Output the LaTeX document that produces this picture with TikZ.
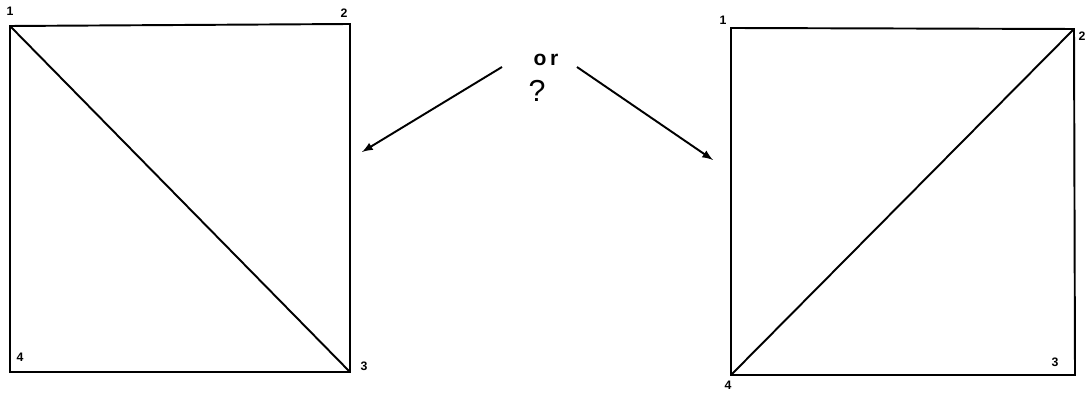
\documentclass[tikz,border=0pt]{standalone}
\usepackage{fontspec}
\setmainfont{Liberation Sans}
\usepackage{tikz}
\usetikzlibrary{positioning}

\begin{document}
\begin{tikzpicture}[x=0.02cm,y=-0.02cm]
			
			\useasboundingbox (0,0) rectangle (1089,394);
			
			\coordinate (a1) at (10,26);
			\coordinate (a2) at (350,24);
			\coordinate (a3) at (350,372);
			\coordinate (a4) at (10,372);
			\coordinate (b1) at (731,28);
			\coordinate (b2) at (1074,29);
			\coordinate (b3) at (1075,375);
			\coordinate (b4) at (731,375);
			
			\node[font=\scriptsize\bfseries] (la1) at (10,11) {1};
			\node[font=\scriptsize\bfseries] (la2) at (344,13) {2};
			\node[font=\scriptsize\bfseries] (la3) at (364,366) {3};
			\node[font=\scriptsize\bfseries] (la4) at (20,357) {4};
			\node[font=\scriptsize\bfseries] (lb1) at (723,20) {1};
			\node[font=\scriptsize\bfseries] (lb2) at (1082,36) {2};
			\node[font=\scriptsize\bfseries] (lb3) at (1055,362) {3};
			\node[font=\scriptsize\bfseries] (lb4) at (728,385) {4};
			
			\node[font=\large\bfseries] (or) at (546,60) {o\,r};
			\node[font=\LARGE] (q) at (537,91) {?};
			
			\coordinate (s1) at (502,67);
			\coordinate (e1) at (362,152);
			\coordinate (s2) at (577,67);
			\coordinate (e2) at (713,160);
			
			\draw[line width=1.1pt] (a1)--(a2)--(a3)--(a4)--cycle;
			\draw[line width=1.1pt] (a1)--(a3);
			\draw[line width=1.1pt] (b1)--(b2)--(b3)--(b4)--cycle;
			\draw[line width=1.1pt] (b4)--(b2);
			
			\draw[line width=1.1pt,-latex] (s1)--(e1);
			\draw[line width=1.1pt,-latex] (s2)--(e2);
			
		\end{tikzpicture}
\end{document}
